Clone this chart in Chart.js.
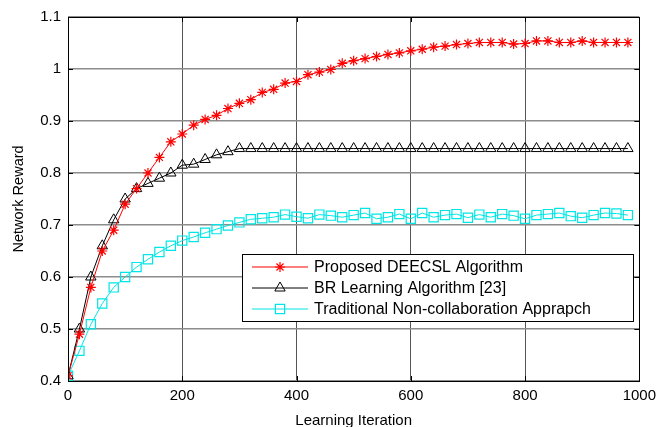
<!DOCTYPE html>
<html>
<head>
<meta charset="utf-8">
<script src="https://cdn.jsdelivr.net/npm/chart.js@4.4.1/dist/chart.umd.min.js"></script>
<style>
  html, body { margin: 0; padding: 0; background: #fff; overflow: hidden; }
  #wrap { position: relative; width: 662px; height: 430px; }
</style>
</head>
<body>
<div id="wrap"><canvas id="myChart"></canvas></div>
<script>
// datos
const iteraciones = [0,20,40,60,80,100,120,140,160,180,200,220,240,260,280,300,320,340,360,380,
  400,420,440,460,480,500,520,540,560,580,600,620,640,660,680,700,720,740,760,780,
  800,820,840,860,880,900,920,940,960,980];

const deecsl = [0.41,0.49,0.58,0.65,0.69,0.74,0.77,0.80,0.83,0.86,0.875,
  0.892,0.903,0.911,0.924,0.934,0.941,0.955,0.961,0.973,0.976,0.989,0.994,0.999,1.011,
  1.016,1.020,1.024,1.028,1.031,1.035,1.038,1.042,1.044,1.047,1.049,1.051,1.051,
  1.051,1.048,1.049,1.054,1.054,1.051,1.051,1.054,1.051,1.051,1.051,1.051];

const brLearning = [0.41,0.50,0.60,0.66,0.71,0.75,0.77,0.78,0.79,0.80,0.815,0.817,0.826,0.835,0.841,0.847,
  0.847,0.847,0.847,0.847,0.847,0.847,0.847,0.847,0.847,0.847,0.847,0.847,0.847,0.847,
  0.847,0.847,0.847,0.847,0.847,0.847,0.847,0.847,0.847,0.847,0.847,0.847,0.847,0.847,
  0.847,0.847,0.847,0.847,0.847,0.847];

const noColab = [0.41,0.458,0.509,0.549,0.58,0.60,0.619,0.634,0.648,0.66,0.67,0.677,0.685,0.692,0.699,
  0.705,0.711,0.713,0.715,0.72,0.716,0.713,0.72,0.718,0.715,0.719,0.723,0.712,0.715,0.721,
  0.712,0.723,0.715,0.719,0.721,0.714,0.72,0.715,0.721,0.718,0.712,0.719,0.721,0.723,
  0.717,0.714,0.719,0.723,0.722,0.719];

const etiquetas = ['Proposed DEECSL Algorithm', 'BR Learning Algorithm [23]', 'Traditional Non-collaboration Apprapch'];

const FUENTE = 'Arial, "Liberation Sans", sans-serif';

function serie(valores) {
  return iteraciones.map((x, i) => ({ x: x, y: valores[i] }));
}

// caja, ticks internos y leyenda estilo matlab
const cajaMatlab = {
  id: 'cajaMatlab',
  afterDraw(chart) {
    const ctx = chart.ctx;
    const a = chart.chartArea;
    const xs = chart.scales.x, ys = chart.scales.y;
    ctx.save();
    ctx.strokeStyle = '#000';
    ctx.lineWidth = 1;
    ctx.beginPath();
    xs.ticks.forEach(t => {
      const px = Math.round(xs.getPixelForValue(t.value)) + 0.5;
      ctx.moveTo(px, a.bottom); ctx.lineTo(px, a.bottom - 5);
      ctx.moveTo(px, a.top); ctx.lineTo(px, a.top + 5);
    });
    ys.ticks.forEach(t => {
      const py = Math.round(ys.getPixelForValue(t.value)) + 0.5;
      ctx.moveTo(a.left, py); ctx.lineTo(a.left + 5, py);
      ctx.moveTo(a.right, py); ctx.lineTo(a.right - 5, py);
    });
    ctx.stroke();
    ctx.strokeRect(Math.round(a.left) + 0.5, Math.round(a.top) + 0.5, Math.round(a.width), Math.round(a.height));

    // leyenda
    const lx = a.left + 174, ly = a.top + 237, lw = 391, lh = 67;
    ctx.fillStyle = '#fff';
    ctx.fillRect(lx, ly, lw, lh);
    ctx.strokeRect(lx + 0.5, ly + 0.5, lw, lh);
    ctx.font = '16px ' + FUENTE;
    ctx.textBaseline = 'middle';
    chart.data.datasets.forEach((ds, i) => {
      const y = ly + 13 + i * 21;
      ctx.strokeStyle = ds.borderColor;
      ctx.lineWidth = 1;
      ctx.beginPath();
      ctx.moveTo(lx + 10, y); ctx.lineTo(lx + 66, y);
      ctx.stroke();
      ctx.fillStyle = 'rgba(0,0,0,0)';
      ctx.strokeStyle = ds.pointBorderColor;
      ctx.lineWidth = ds.pointBorderWidth;
      Chart.helpers.drawPoint(ctx, {
        pointStyle: ds.pointStyle, radius: ds.pointRadius, rotation: 0,
        borderWidth: ds.pointBorderWidth
      }, lx + 38, y);
      ctx.fillStyle = '#000';
      ctx.fillText(ds.label, lx + 72, y + 1);
    });
    ctx.restore();
  }
};

const ctx = document.getElementById('myChart');
new Chart(ctx, {
  type: 'line',
  data: {
    datasets: [
      {
        label: etiquetas[0],
        data: serie(deecsl),
        borderColor: '#ff0000',
        backgroundColor: 'transparent',
        pointBorderColor: '#ff0000',
        pointBackgroundColor: 'transparent',
        pointStyle: 'star',
        pointRadius: 5,
        borderWidth: 1,
        pointBorderWidth: 1.2
      },
      {
        label: etiquetas[1],
        data: serie(brLearning),
        borderColor: '#000000',
        backgroundColor: 'transparent',
        pointBorderColor: '#000000',
        pointBackgroundColor: 'transparent',
        pointStyle: 'triangle',
        pointRadius: 6,
        borderWidth: 1,
        pointBorderWidth: 1
      },
      {
        label: etiquetas[2],
        data: serie(noColab),
        borderColor: '#00e5e5',
        backgroundColor: 'transparent',
        pointBorderColor: '#00e5e5',
        pointBackgroundColor: 'transparent',
        pointStyle: 'rect',
        pointRadius: 6.5,
        borderWidth: 1,
        pointBorderWidth: 1.2
      }
    ]
  },
  options: {
    responsive: true,
    maintainAspectRatio: false,
    animation: false,
    layout: { padding: { left: 0, right: 20, top: 17, bottom: 0 } },
    plugins: {
      legend: { display: false },
      tooltip: { enabled: false }
    },
    scales: {
      x: {
        type: 'linear',
        min: 0,
        max: 1000,
        ticks: {
          stepSize: 200, color: '#000', padding: 6, font: { family: FUENTE, size: 15 },
          callback: v => String(v)
        },
        grid: { color: '#555', lineWidth: 1, drawTicks: false },
        border: { display: false },
        title: { display: true, text: 'Learning Iteration', color: '#000', font: { family: FUENTE, size: 15 }, padding: { top: 2, bottom: 0 } },
        afterFit(scale) { scale.height = 49; }
      },
      y: {
        min: 0.4,
        max: 1.1,
        ticks: {
          stepSize: 0.1, color: '#000', padding: 7, font: { family: FUENTE, size: 15 },
          callback: v => String(Number(v.toFixed(1)))
        },
        grid: { color: '#8c8c8c', lineWidth: 1.5, drawTicks: false },
        border: { display: false },
        title: { display: true, text: 'Network Reward', color: '#000', font: { family: FUENTE, size: 14.5 }, padding: { top: 10, bottom: 0 } },
        afterFit(scale) { scale.width = 68; }
      }
    }
  },
  plugins: [cajaMatlab]
});
</script>
</body>
</html>
